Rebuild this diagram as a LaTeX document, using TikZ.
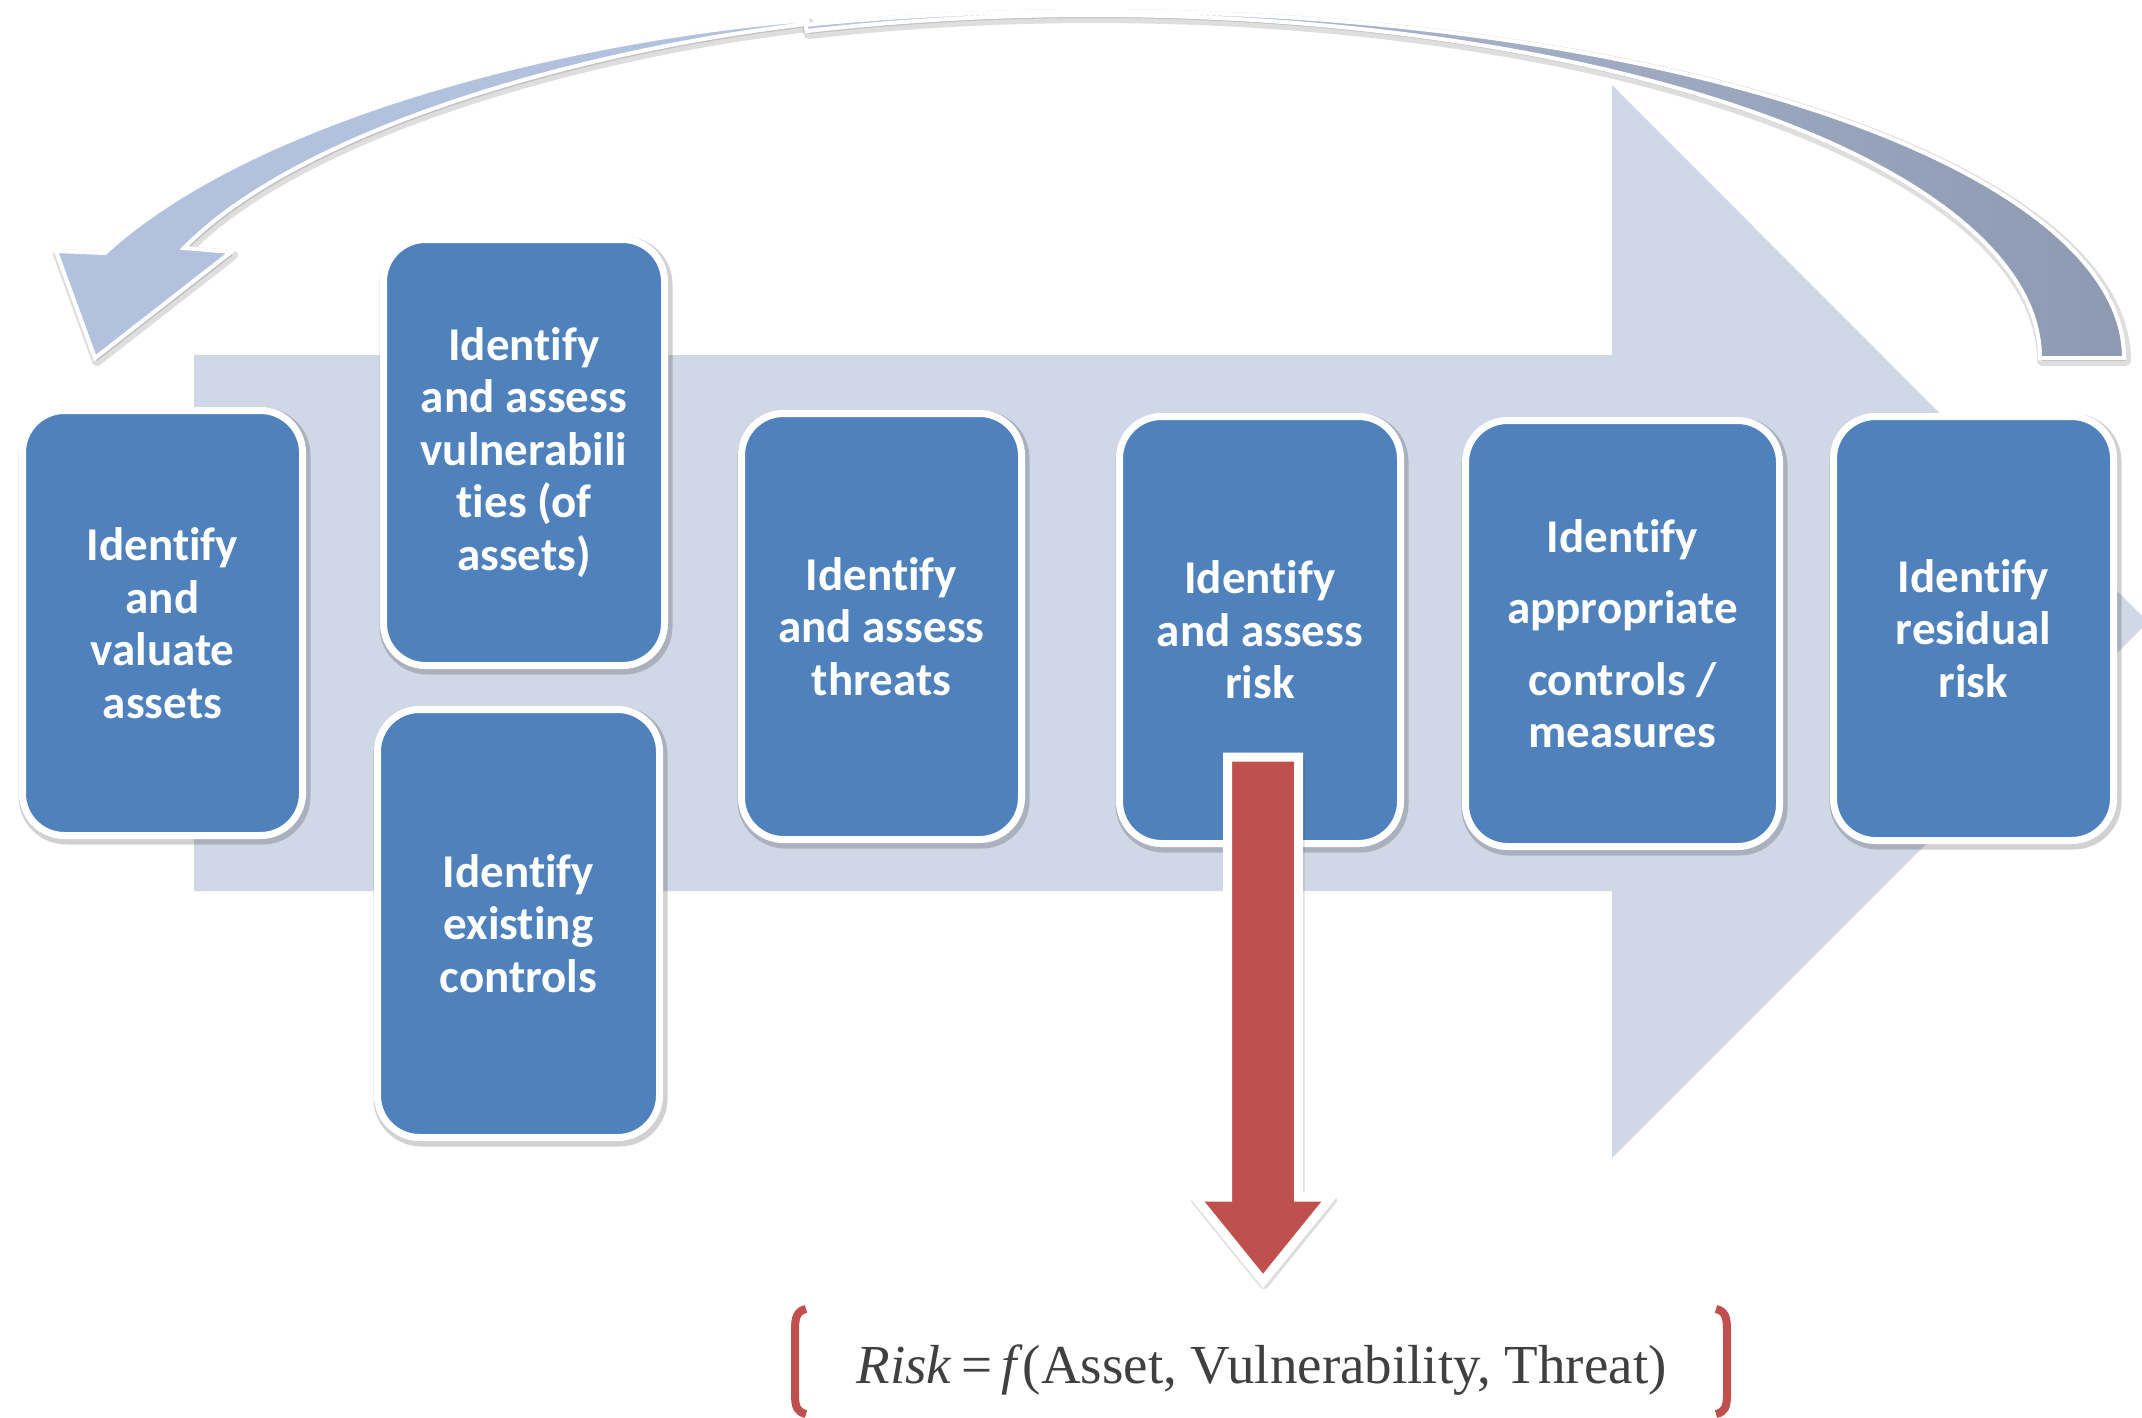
\documentclass[tikz,border=0pt]{standalone}
\usepackage{fontspec}
\setmainfont{Carlito}[Ligatures=NoCommon]
\newfontfamily\formulafont{Liberation Serif}
\definecolor{boxblue}{HTML}{4F81BD}
\definecolor{bgarrow}{HTML}{D0D8E8}
\definecolor{lightarc}{HTML}{B2C2DE}
\definecolor{darkarc}{HTML}{8D9AB2}
\definecolor{midarc}{HTML}{B9C5DB}
\definecolor{riskred}{HTML}{C0504D}
\definecolor{formulagray}{HTML}{404040}
\tikzset{
  stepbox/.style={rounded corners=42pt, fill=boxblue, draw=white, line width=7pt,
    text=white, font=\fontsize{47}{52.5}\selectfont\bfseries, align=center, inner sep=0pt,
    preaction={draw=black, opacity=0.18, line width=12pt, transform canvas={xshift=2pt,yshift=-3pt}}},
  shapeshadow/.style={fill=black, draw=black, line width=10pt, opacity=0.13, line join=round},
  whiteedge/.style={draw=white, line width=4pt, line join=miter, miter limit=4},
}
\def\lightarcpath{(807,20) .. controls (560,40) and (250,120) .. (105,253) -- (56,251) -- (95,358) -- (231,252) -- (184,248) .. controls (300,130) and (580,50) .. (807,24) -- cycle}
\def\darkarcpath{(805.4,24.8) arc[start angle=-106.2, end angle=0, x radius=1031, y radius=347] -- (2040,358) arc[start angle=0, end angle=-107.6, x radius=947, y radius=343] -- cycle}
\def\redarrowpath{(1227.5,757) -- (1298.5,757) -- (1298.5,1197) -- (1331,1197) -- (1263,1281) -- (1195,1197) -- (1227.5,1197) -- cycle}
\begin{document}
\begin{tikzpicture}[x=1pt,y=-1pt]
\useasboundingbox (0,0) rectangle (2142,1417);
\fill[white] (0,0) rectangle (2142,1417);
% big background arrow
\fill[bgarrow] (194,355) -- (1612,355) -- (1612,85) -- (2148,622) -- (1612,1158) -- (1612,891) -- (194,891) -- cycle;
% curved return arrow
\path[shapeshadow, shift={(2,3)}] \lightarcpath;
\path[shapeshadow, shift={(2,3)}] \darkarcpath;
\path[fill=lightarc, whiteedge] \lightarcpath;
\path[left color=midarc, right color=darkarc, whiteedge] \darkarcpath;
% steps
\node[stepbox, minimum width=280pt, minimum height=425pt] (assets) at (162.5,623) {Identify\\and\\valuate\\assets};
\node[stepbox, minimum width=281pt, minimum height=426pt] (vuln) at (524,452.5) {Identify\\and assess\\vulnerabili\\ties (of\\assets)};
\node[stepbox, minimum width=282pt, minimum height=428pt] (existing) at (518.5,923.5) {Identify\\existing\\controls};
\node[stepbox, minimum width=280pt, minimum height=426pt] (threats) at (881.5,626.5) {Identify\\and assess\\threats};
\node[stepbox, minimum width=281pt, minimum height=427pt] (risk) at (1260,630) {Identify\\and assess\\risk};
\node[stepbox, minimum width=314pt, minimum height=426pt] (measures) at (1622.5,633.5) {Identify\\[19pt]appropriate\\[19pt]controls /\\measures};
\node[stepbox, minimum width=280pt, minimum height=424pt] (residual) at (1973.5,628.5) {Identify\\residual\\risk};
% red arrow
\path[shapeshadow, shift={(1,3)}] \redarrowpath;
\path[fill=riskred, draw=white, line width=9pt, line join=miter] \redarrowpath;
% formula
\node[anchor=base, inner sep=0pt, text=formulagray, font=\formulafont\fontsize{55}{60}\selectfont] (formula) at (1261.5,1383) {\textit{Risk}\,=\,\textit{f}(Asset, Vulnerability, Threat)};
\draw[riskred, line width=8pt] (806,1309) .. controls (797,1311) and (795,1317) .. (795,1330) -- (795,1394) .. controls (795,1407) and (797,1412) .. (806,1414);
\draw[riskred, line width=8pt] (1716,1309) .. controls (1725,1311) and (1727,1317) .. (1727,1330) -- (1727,1394) .. controls (1727,1407) and (1725,1412) .. (1716,1414);
\end{tikzpicture}
\end{document}
